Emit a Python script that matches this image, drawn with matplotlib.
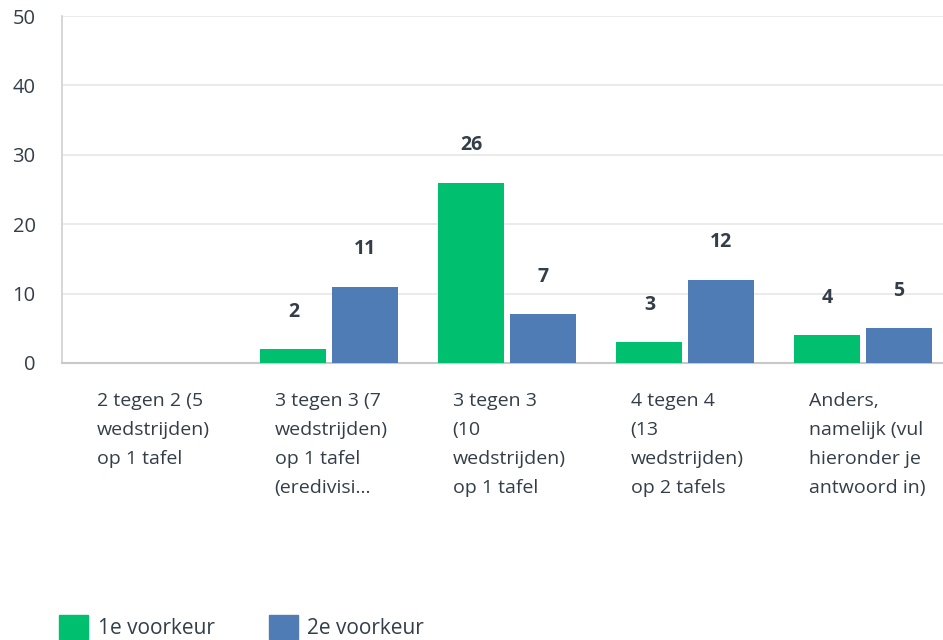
import numpy as np
import matplotlib.pyplot as plt
from matplotlib.patches import Patch
from matplotlib.transforms import blended_transform_factory

# Survey results: preference per competition format
categories = [
    "2 tegen 2 (5\nwedstrijden)\nop 1 tafel",
    "3 tegen 3 (7\nwedstrijden)\nop 1 tafel\n(eredivisi...",
    "3 tegen 3\n(10\nwedstrijden)\nop 1 tafel",
    "4 tegen 4\n(13\nwedstrijden)\nop 2 tafels",
    "Anders,\nnamelijk (vul\nhieronder je\nantwoord in)",
]
first_choice = [0, 2, 26, 3, 4]
second_choice = [0, 11, 7, 12, 5]
series_names = ["1e voorkeur", "2e voorkeur"]
yticks = [0, 10, 20, 30, 40, 50]

green = "#00BF6F"
blue = "#507CB6"
text_col = "#333E48"

plt.rcParams['font.family'] = ['Open Sans', 'DejaVu Sans']

fig = plt.figure(figsize=(9.43, 6.4), dpi=100)
ax = fig.add_axes([62 / 943, 1 - 363 / 640, 890 / 943, 347 / 640])

x = np.arange(len(categories))
w = 0.371
off = 0.2
ax.bar(x - off, first_choice, width=w, color=green, zorder=3)
ax.bar(x + off, second_choice, width=w, color=blue, zorder=3)

# value labels (skip zeros)
for xi, v in zip(x - off, first_choice):
    if v > 0:
        ax.text(xi, v + 5.4, str(v), ha='center', va='center', fontsize=14,
                fontweight='bold', color=text_col)
for xi, v in zip(x + off, second_choice):
    if v > 0:
        ax.text(xi, v + 5.4, str(v), ha='center', va='center', fontsize=14,
                fontweight='bold', color=text_col)

ax.set_xlim(-0.5, len(categories) - 0.5)
ax.set_ylim(0, 50)
ax.set_yticks(yticks)
ax.set_xticks([])
ax.tick_params(axis='y', length=0, pad=19, labelsize=14.5, labelcolor=text_col)
ax.grid(axis='y', color='#E8E8E8', linewidth=1.2, zorder=0)
for s in ['top', 'right']:
    ax.spines[s].set_visible(False)
ax.spines['left'].set_color('#D0D0D0')
ax.spines['bottom'].set_color('#C8C8C8')
ax.spines['left'].set_linewidth(1.2)
ax.spines['bottom'].set_linewidth(1.5)

# category labels, left aligned under each group
trans = blended_transform_factory(ax.transData, ax.transAxes)
for xi, lab in zip(x, categories):
    ax.text(xi - 0.305, -0.085, lab, transform=trans, ha='left', va='top',
            fontsize=14, color=text_col, linespacing=1.78)

handles = [Patch(facecolor=green, edgecolor=green), Patch(facecolor=blue, edgecolor=blue)]
fig.legend(handles, series_names, loc='lower left', bbox_to_anchor=(0.043, -0.028),
           ncol=2, frameon=False, fontsize=15, labelcolor=text_col,
           handlelength=1.4, handleheight=1.4, handletextpad=0.45, columnspacing=2.6)

fig.savefig("out.png", dpi=100)
